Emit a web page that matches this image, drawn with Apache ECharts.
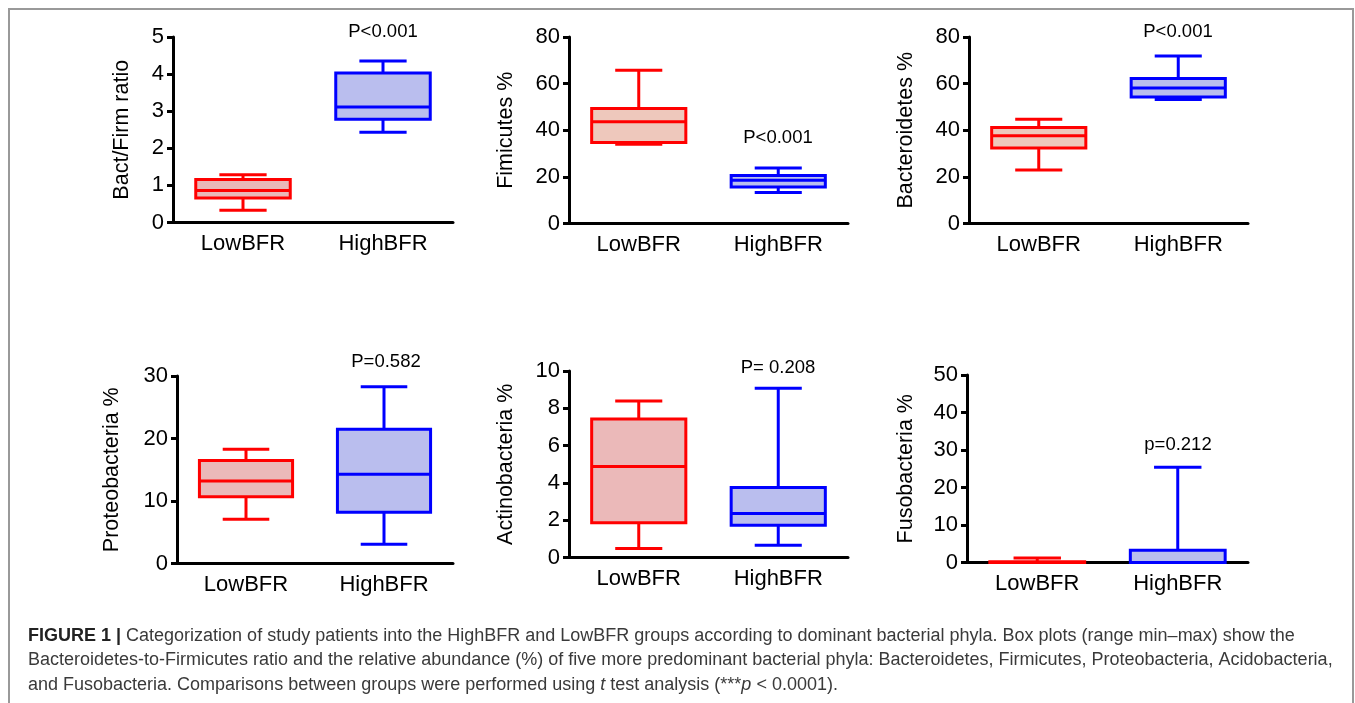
<!DOCTYPE html>
<html><head><meta charset="utf-8">
<script src="https://cdn.jsdelivr.net/npm/echarts@6/dist/echarts.min.js"></script>
<style>html,body{margin:0;padding:0;background:#fff}#c{width:1355px;height:703px}</style>
</head><body><div id="c"></div>
<script>
// ---------------- DATA ----------------
const categories = ['LowBFR', 'HighBFR'];
// each array: [min, q1, median, q3, max]
const bactFirmLow  = [0.33, 0.66, 0.86, 1.16, 1.29];
const bactFirmHigh = [2.43, 2.78, 3.11, 4.03, 4.35];
const firmLow      = [34.0, 34.7, 43.6, 49.3, 65.7];
const firmHigh     = [13.3, 15.7, 18.6, 20.6, 23.8];
const bactLow      = [22.9, 32.4, 37.6, 41.2, 44.7];
const bactHigh     = [53.2, 54.3, 58.1, 62.2, 71.9];
const proteoLow    = [7.1, 10.7, 13.2, 16.5, 18.3];
const proteoHigh   = [3.1, 8.2, 14.3, 21.5, 28.3];
const actinoLow    = [0.48, 1.86, 4.88, 7.42, 8.39];
const actinoHigh   = [0.66, 1.73, 2.36, 3.76, 9.07];
const fusoLow      = [0, 0, 0, 0.2, 1.2];
const fusoHigh     = [0, 0, 0, 3.3, 25.4];

const yNames    = ['Bact/Firm ratio', 'Fimicutes %', 'Bacteroidetes %', 'Proteobacteria %', 'Actinobacteria %', 'Fusobacteria %'];
const yMax      = [5, 80, 80, 30, 10, 50];
const yInterval = [1, 20, 20, 10, 2, 10];
const pTexts    = ['P<0.001', 'P<0.001', 'P<0.001', 'P=0.582', 'P= 0.208', 'p=0.212'];
const captionLines = [
  '{b|FIGURE 1 |} Categorization of study patients into the HighBFR and LowBFR groups according to dominant bacterial phyla. Box plots (range min\u2013max) show the',
  'Bacteroidetes-to-Firmicutes ratio and the relative abundance (%) of five more predominant bacterial phyla: Bacteroidetes, Firmicutes, Proteobacteria, Acidobacteria,',
  'and Fusobacteria. Comparisons between groups were performed using {i|t} test analysis (***{i|p} < 0.0001).'
];
const panelData = [
  [bactFirmLow, bactFirmHigh], [firmLow, firmHigh], [bactLow, bactHigh],
  [proteoLow, proteoHigh], [actinoLow, actinoHigh], [fusoLow, fusoHigh]
];

// ---------------- LAYOUT / STYLE ----------------
const grids = [
  {left: 173, top: 37, width: 280, height: 185.5},
  {left: 569, top: 37, width: 279, height: 186.5},
  {left: 969, top: 37, width: 279, height: 186.5},
  {left: 177, top: 376, width: 276, height: 187.5},
  {left: 569, top: 371, width: 279, height: 186.5},
  {left: 967, top: 375, width: 281, height: 187.5}
];
const nameGaps = [40, 52, 52, 54, 52, 50];
const pPos = [[383, 32], [778, 138], [1178, 32], [386, 362], [778, 368], [1178, 445]];
const redFill = ['#E9B8B8', '#EEC8BC', '#EEC8BC', '#EBB9B9', '#EBB9B9', '#EBB9B9'];
const blueFill = '#BABEEE';
const FONT = 'Liberation Sans, Arial, sans-serif';

function makeRender(stroke, fill) {
  return function (params, api) {
    const cat = api.value(0);
    const mn = api.value(1), q1 = api.value(2), md = api.value(3), q3 = api.value(4), mx = api.value(5);
    const band = api.size([1, 0])[0];
    const bw = band * 0.675, cw = bw * 0.5;
    const x = api.coord([cat, 0])[0];
    const y = v => api.coord([cat, v])[1];
    const ls = {stroke: stroke, lineWidth: 3, lineCap: 'butt'};
    const line = (x1, y1, x2, y2) => ({type: 'line', shape: {x1, y1, x2, y2}, style: ls});
    return {
      type: 'group',
      children: [
        line(x, y(q3), x, y(mx)),
        line(x - cw / 2, y(mx), x + cw / 2, y(mx)),
        line(x, y(q1), x, y(mn)),
        line(x - cw / 2, y(mn), x + cw / 2, y(mn)),
        {type: 'rect', shape: {x: x - bw / 2, y: y(q3), width: bw, height: y(q1) - y(q3)},
         style: {fill: fill, stroke: stroke, lineWidth: 3, lineJoin: 'miter'}},
        line(x - bw / 2, y(md), x + bw / 2, y(md))
      ]
    };
  };
}

const option = {
  backgroundColor: '#fff',
  animation: false,
  grid: grids.map(g => Object.assign({containLabel: false}, g)),
  xAxis: grids.map((g, i) => ({
    type: 'category', gridIndex: i, data: categories,
    axisLine: {lineStyle: {color: '#000', width: 3}},
    axisTick: {alignWithLabel: true, length: 6, lineStyle: {color: '#000', width: 3}},
    axisLabel: {fontSize: 22, color: '#000', fontFamily: FONT, margin: 10},
    splitLine: {show: false}
  })),
  yAxis: grids.map((g, i) => ({
    type: 'value', gridIndex: i, min: 0, max: yMax[i], interval: yInterval[i],
    name: yNames[i], nameLocation: 'middle', nameGap: nameGaps[i],
    nameTextStyle: {fontSize: 21.5, color: '#000', fontFamily: FONT},
    axisLine: {show: true, lineStyle: {color: '#000', width: 3}},
    axisTick: {show: true, length: 6, lineStyle: {color: '#000', width: 3}},
    axisLabel: {fontSize: 22, color: '#000', fontFamily: FONT, margin: 9},
    splitLine: {show: false}
  })),
  series: [],
  graphic: []
};

panelData.forEach((pd, i) => {
  option.series.push({
    type: 'custom', xAxisIndex: i, yAxisIndex: i, clip: false, z: 5,
    renderItem: makeRender('#FF0000', redFill[i]),
    encode: {x: 0, y: [1, 2, 3, 4, 5]},
    data: [[0].concat(pd[0])]
  });
  option.series.push({
    type: 'custom', xAxisIndex: i, yAxisIndex: i, clip: false, z: 5,
    renderItem: makeRender('#0000FF', blueFill),
    encode: {x: 0, y: [1, 2, 3, 4, 5]},
    data: [[1].concat(pd[1])]
  });
  option.graphic.push({
    type: 'text', x: pPos[i][0], y: pPos[i][1],
    style: {text: pTexts[i], fill: '#000', font: '18.5px ' + FONT, textAlign: 'center', textVerticalAlign: 'middle'}
  });
});

option.graphic.push({
  type: 'rect', shape: {x: 9, y: 9, width: 1344, height: 720},
  style: {fill: 'none', stroke: '#999', lineWidth: 2}, silent: true
});
const capY = [636, 660, 685];
captionLines.forEach((t, k) => {
  option.graphic.push({
    type: 'text', x: 28, y: capY[k],
    style: {
      text: t, fontSize: 18, fontFamily: FONT, fill: '#3a3a3a', textVerticalAlign: 'middle',
      rich: {
        b: {fontSize: 18, fontFamily: FONT, fontWeight: 'bold', fill: '#222'},
        i: {fontSize: 18, fontFamily: FONT, fontStyle: 'italic', fill: '#3a3a3a'}
      }
    }
  });
});

const chart = echarts.init(document.getElementById('c'), null, {renderer: 'canvas'});
chart.setOption(option);
</script>
</body></html>
